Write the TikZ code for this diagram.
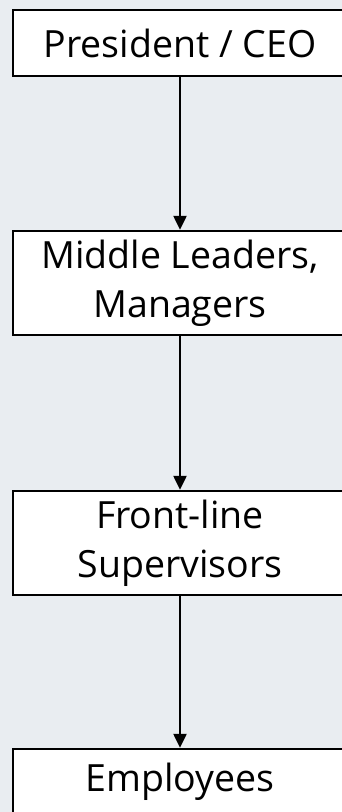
\documentclass[tikz,border=0pt]{standalone}
\usepackage{fontspec}
\setmainfont{Open Sans}
\usepackage{tikz}
\usetikzlibrary{arrows.meta}

\definecolor{bgpanel}{HTML}{E9EDF1}

\tikzset{
    level/.style={draw=black,line width=2.5pt,fill=white,minimum width=334pt,
        align=center,inner sep=0pt,font=\fontsize{37.5}{49}\selectfont},
    link/.style={line width=2.5pt,-{Triangle[length=14pt,width=13pt]}}
}

\begin{document}
\begin{tikzpicture}[x=1pt,y=-1pt]
    % Frame
    \fill[bgpanel] (0,0) rectangle (342,812);
    \useasboundingbox (0,0) rectangle (342,812);
    \clip (0,0) rectangle (342,812);

    % Levels
    \node[level,minimum height=66pt] (ceo) at (180,43) {President / CEO};
    \node[level,minimum height=104pt] (mid) at (180,283) {Middle Leaders,\\Managers};
    \node[level,minimum height=104pt] (front) at (180,543) {Front-line\\Supervisors};
    \node[level,minimum height=66pt] (emp) at (180,782) {Employees};

    % Links
    \draw[link] (ceo) -- (mid);
    \draw[link] (mid) -- (front);
    \draw[link] (front) -- (emp);
\end{tikzpicture}
\end{document}
